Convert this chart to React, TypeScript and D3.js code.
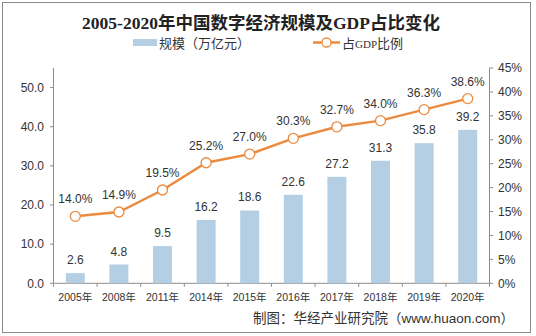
import React from "react";
import * as d3 from "d3";

const categories = ["2005年", "2008年", "2011年", "2014年", "2015年", "2016年", "2017年", "2018年", "2019年", "2020年"];
const scaleValues = [2.6, 4.8, 9.5, 16.2, 18.6, 22.6, 27.2, 31.3, 35.8, 39.2];
const shareValues = [14.0, 14.9, 19.5, 25.2, 27.0, 30.3, 32.7, 34.0, 36.3, 38.6];
const leftTicks = [0, 10, 20, 30, 40, 50];
const rightTicks = [0, 5, 10, 15, 20, 25, 30, 35, 40, 45];

const W = 536, H = 336;
const x0 = 53.5, x1 = 489.5, yTop = 68, yBot = 283.3;
const BAR = "#b4cfe4";
const LINE = "#ec8a3e";
const NUM = "'Liberation Sans', Arial, sans-serif";
const CJK = "'Liberation Sans', 'Noto Sans CJK SC', sans-serif";

export default function App() {
  const band = d3.scaleBand<string>().domain(categories).range([x0, x1]);
  const yL = d3.scaleLinear().domain([0, 55]).range([yBot, yTop]);
  const yR = d3.scaleLinear().domain([0, 45]).range([yBot, yTop]);
  const cx = (c: string) => (band(c) as number) + band.bandwidth() / 2;
  const line = d3.line<number>().x((_, i) => cx(categories[i])).y((d) => yR(d));
  const bw = 19;
  const axisColor = "#8c8c8c";
  return (
    <svg width={W} height={H} style={{ position: "absolute", left: 0, top: 0, background: "#fff" }}>
      <rect x={2.5} y={2.5} width={528} height={330} fill="#fff" stroke="#8a8a8a" strokeWidth={1} />
      <text x={261} y={29} textAnchor="middle" fontFamily="'Liberation Serif', 'Noto Sans CJK SC', serif" fontWeight="bold" fontSize={17.5} fill="#222">
        2005-2020年中国数字经济规模及GDP占比变化
      </text>
      {/* legend */}
      <rect x={133} y={39} width={24} height={7} fill={BAR} />
      <text x={159} y={47.5} fontFamily="'Noto Sans CJK SC', sans-serif" fontSize={13} fill="#333">规模（万亿元）</text>
      <line x1={313} x2={340} y1={42.5} y2={42.5} stroke={LINE} strokeWidth={2.5} />
      <circle cx={326.5} cy={42.5} r={4.5} fill="#fff" stroke={LINE} strokeWidth={1.3} />
      <text x={342} y={47.5} fontFamily="'Noto Sans CJK SC', sans-serif" fontSize={13} fill="#333">
        占<tspan fontFamily="'Liberation Serif', serif" fontSize={11}>GDP</tspan>比例
      </text>
      {/* axes */}
      <line x1={x0} x2={x0} y1={yTop} y2={yBot} stroke={axisColor} />
      <line x1={x1} x2={x1} y1={yTop} y2={yBot} stroke={axisColor} />
      <line x1={x0} x2={x1} y1={yBot} y2={yBot} stroke={axisColor} />
      {leftTicks.map((t) => (
        <g key={"l" + t}>
          <line x1={x0 - 3.5} x2={x0} y1={yL(t)} y2={yL(t)} stroke={axisColor} />
          <text x={44} y={yL(t) + 4.3} textAnchor="end" fontFamily={NUM} fontSize={12} fill="#333">{t.toFixed(1)}</text>
        </g>
      ))}
      {rightTicks.map((t) => (
        <g key={"r" + t}>
          <line x1={x1} x2={x1 + 3.5} y1={yR(t)} y2={yR(t)} stroke={axisColor} />
          <text x={498} y={yR(t) + 4.3} fontFamily={NUM} fontSize={12} fill="#333">{t}%</text>
        </g>
      ))}
      {categories.map((c, i) => (
        <line key={"bt" + i} x1={band(c) as number} x2={band(c) as number} y1={yBot} y2={yBot + 3.5} stroke={axisColor} />
      ))}
      <line x1={x1} x2={x1} y1={yBot} y2={yBot + 3.5} stroke={axisColor} />
      {categories.map((c) => (
        <text key={"xl" + c} x={cx(c)} y={301} textAnchor="middle" fontFamily={CJK} fontSize={10.5} fill="#333">{c}</text>
      ))}
      {/* bars */}
      {categories.map((c, i) => (
        <g key={"b" + c}>
          <rect x={cx(c) - bw / 2} y={yL(scaleValues[i])} width={bw} height={yBot - yL(scaleValues[i])} fill={BAR} />
          <text x={cx(c)} y={yL(scaleValues[i]) - 9} textAnchor="middle" fontFamily={NUM} fontSize={12} fill="#333">{scaleValues[i].toFixed(1)}</text>
        </g>
      ))}
      {/* line */}
      <path d={line(shareValues) || ""} fill="none" stroke={LINE} strokeWidth={2.5} />
      {categories.map((c, i) => (
        <g key={"p" + c}>
          <circle cx={cx(c)} cy={yR(shareValues[i])} r={5} fill="#fff" stroke={LINE} strokeWidth={1.3} />
          <text x={cx(c)} y={yR(shareValues[i]) - 13} textAnchor="middle" fontFamily={NUM} fontSize={12} fill="#333">{shareValues[i].toFixed(1)}%</text>
        </g>
      ))}
      <text x={514} y={323} textAnchor="end" fontFamily="'Noto Sans CJK SC', sans-serif" fontSize={13.5} fill="#333">
        制图：华经产业研究院（<tspan fontFamily={NUM}>www.huaon.com</tspan>）
      </text>
    </svg>
  );
}
